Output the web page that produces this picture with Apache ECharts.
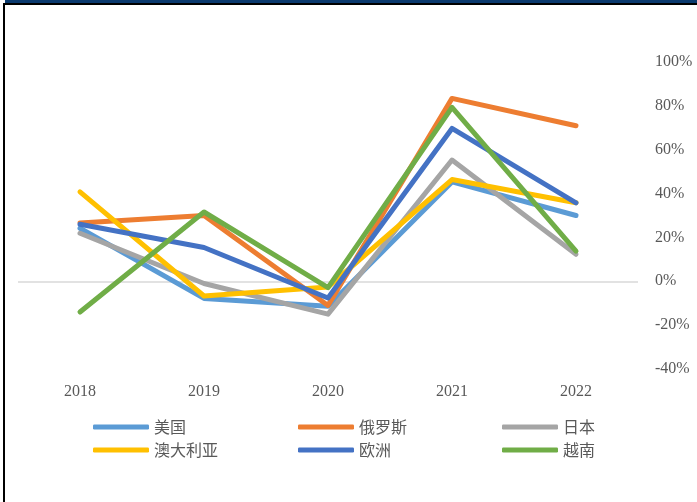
<!DOCTYPE html>
<html>
<head>
<meta charset="utf-8">
<script src="https://cdn.jsdelivr.net/npm/echarts@6/dist/echarts.min.js"></script>
<style>
  html, body { margin: 0; padding: 0; background: #fff; }
  #chart { width: 697px; height: 502px; }
</style>
</head>
<body>
<div id="chart"></div>
<script>
// Year-over-year growth (%) by market
const years = ['2018', '2019', '2020', '2021', '2022'];
const usa = [24.2, -7.8, -11.4, 45.3, 30.0];
const russia = [26.6, 30.0, -11.0, 83.4, 70.9];
const japan = [21.9, -1.0, -15.0, 55.3, 12.3];
const australia = [40.8, -6.7, -2.6, 46.4, 35.8];
const europe = [26.0, 15.4, -7.6, 69.7, 35.8];
const vietnam = [-14.0, 31.6, -2.9, 79.3, 13.8];
const yTicks = { min: -40, max: 100, step: 20 };

const names = ['美国', '俄罗斯', '日本', '澳大利亚', '欧洲', '越南'];
const values = [usa, russia, japan, australia, europe, vietnam];
const colors = ['#5B9BD5', '#ED7D31', '#A5A5A5', '#FFC000', '#4472C4', '#70AD47'];

const textColor = '#595959';
const serif = '"Liberation Serif", "Times New Roman", serif';
const cjk = '"Noto Sans CJK SC", sans-serif';

const series = names.map((name, i) => {
  const s = {
    name: name,
    type: 'line',
    data: values[i],
    symbol: 'none',
    color: colors[i],
    lineStyle: { width: 5, color: colors[i], cap: 'round', join: 'round' },
    z: 3 + i
  };
  if (i === 0) {
    s.markLine = {
      silent: true,
      symbol: 'none',
      label: { show: false },
      lineStyle: { color: '#D9D9D9', width: 1.5, type: 'solid' },
      data: [{ yAxis: 0 }],
      z: 1
    };
  }
  return s;
});

// three legend columns, two entries each
const legendCols = [[names[0], names[3]], [names[1], names[4]], [names[2], names[5]]];
const legendLeft = [93, 298, 502];
const legends = legendCols.map((col, i) => ({
  orient: 'vertical',
  left: legendLeft[i],
  top: 419,
  padding: 0,
  data: col,
  icon: 'roundRect',
  itemWidth: 56,
  itemHeight: 5,
  itemGap: 7,
  textStyle: { color: textColor, fontSize: 16, fontFamily: cjk },
  selectedMode: false
}));

const chart = echarts.init(document.getElementById('chart'), null, { renderer: 'canvas' });
chart.setOption({
  animation: false,
  backgroundColor: '#ffffff',
  graphic: [
    { type: 'rect', shape: { x: 5, y: 0, width: 692, height: 3 }, style: { fill: '#0B3A6E' }, z: 10 },
    { type: 'rect', shape: { x: 3, y: 3, width: 694, height: 2 }, style: { fill: '#000000' }, z: 10 },
    { type: 'rect', shape: { x: 3, y: 3, width: 2, height: 499 }, style: { fill: '#000000' }, z: 10 }
  ],
  grid: { left: 18, right: 59, top: 62, bottom: 133 },
  legend: legends,
  xAxis: {
    type: 'category',
    data: years,
    boundaryGap: true,
    axisLine: { show: false },
    axisTick: { show: false },
    axisLabel: { color: textColor, fontSize: 16, fontFamily: serif, margin: 15 }
  },
  yAxis: {
    type: 'value',
    position: 'right',
    min: yTicks.min,
    max: yTicks.max,
    interval: yTicks.step,
    axisLine: { show: false },
    axisTick: { show: false },
    splitLine: { show: false },
    axisLabel: {
      color: textColor, fontSize: 16, fontFamily: serif, margin: 17,
      formatter: v => v + '%'
    }
  },
  series: series
});
</script>
</body>
</html>
